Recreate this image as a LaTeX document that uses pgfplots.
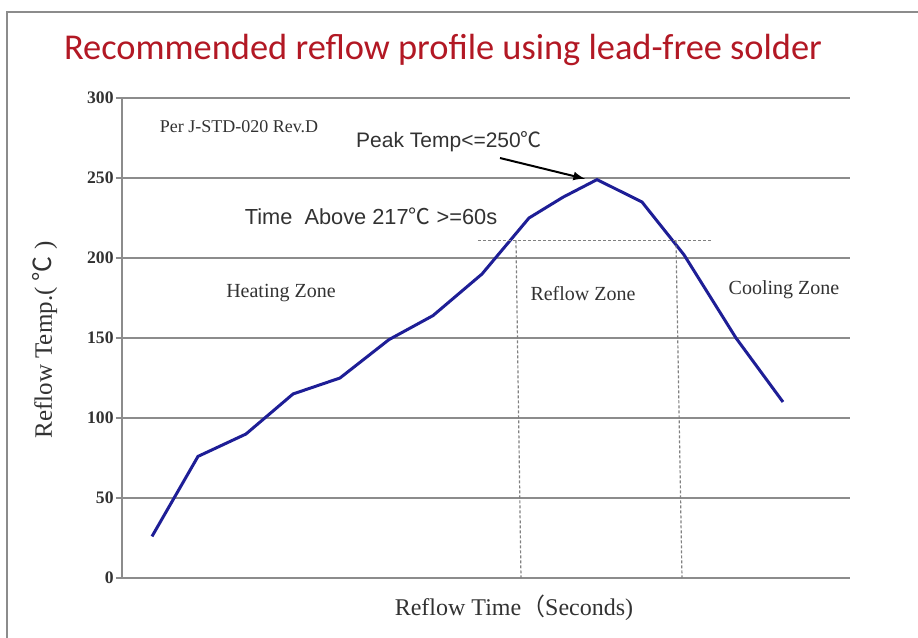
\documentclass[border=0pt]{standalone}
\usepackage{pgfplots}
\pgfplotsset{compat=1.18}
\usepackage{fontspec}
\setmainfont{Liberation Serif}
\newfontfamily\sans{Liberation Sans}
\newfontfamily\calib{Carlito}
\newfontfamily\cjk{Noto Sans CJK SC}
\definecolor{titlered}{RGB}{178,24,36}
\definecolor{curveblue}{RGB}{30,30,150}
\definecolor{gridgray}{RGB}{140,140,140}
\definecolor{txtgray}{RGB}{50,50,50}
\begin{document}
\begin{tikzpicture}
\useasboundingbox (0,0) rectangle (459pt,319pt);
% frame
\draw[gridgray, line width=0.8pt] (3.5pt,0) -- (3.5pt,313pt) -- (459pt,313pt);
% title
\node[font=\calib\fontsize{18.2}{20}\selectfont, text=titlered] at (221.5pt,294pt) {Recommended reflow profile using lead-free solder};
\begin{axis}[
  at={(61pt,30pt)}, anchor=south west,
  scale only axis, width=364pt, height=240pt,
  xmin=0, xmax=728, ymin=0, ymax=300,
  axis lines=left,
  axis line style={-, gridgray, line width=1pt},
  xtick=\empty,
  ytick={0,50,...,300},
  ymajorgrids,
  major grid style={gridgray, line width=1pt},
  ytick align=outside,
  major tick length=3pt,
  ytick style={gridgray, line width=1pt},
  yticklabel style={font=\fontsize{8.8}{10}\selectfont\bfseries, text=txtgray, inner xsep=1pt},
  /pgf/number format/assume math mode=true,
  clip=false,
]
\addplot[curveblue, line width=1.5pt] coordinates {
(30,26) (76,76) (124,90) (171,115) (218,125) (267,149) (311,164) (360,190)
(407,225) (441,238) (475,249) (520,235) (562,202) (614,150) (661,110)};
% 217 C reference lines
\addplot[gray, line width=0.6pt, dash pattern=on 1.5pt off 1pt] coordinates {(356,211) (590,211)};
\addplot[gray, line width=0.6pt, dash pattern=on 1.5pt off 1pt] coordinates {(394,211) (399,0)};
\addplot[gray, line width=0.6pt, dash pattern=on 1.5pt off 1pt] coordinates {(554,211) (560,0)};
\draw[black, line width=1pt, -{latex}] (axis cs:378,262.5) -- (axis cs:463,249.5);
\node[font=\fontsize{9}{10}\selectfont, text=txtgray] at (axis cs:117,282) {Per J-STD-020 Rev.D};
\node[font=\sans\fontsize{10.5}{11}\selectfont, text=txtgray] at (axis cs:327,272.5) {Peak Temp<=250{\cjk ℃}};
\node[font=\sans\fontsize{10.9}{11}\selectfont, text=txtgray] at (axis cs:249,226) {Time~ Above 217{\cjk ℃} >=60s};
\node[font=\fontsize{10}{11}\selectfont, text=txtgray] at (axis cs:159,178) {Heating Zone};
\node[font=\fontsize{10}{11}\selectfont, text=txtgray] at (axis cs:461,178) {Reflow Zone};
\node[font=\fontsize{10}{11}\selectfont, text=txtgray] at (axis cs:662,180) {Cooling Zone};
\end{axis}
\node[rotate=90, font=\fontsize{12.5}{13}\selectfont, text=txtgray] at (22.5pt,149pt) {Reflow Temp.( {\cjk ℃} )};
\node[font=\fontsize{12}{13}\selectfont, text=txtgray] at (257pt,15pt) {Reflow Time{\cjk （}Seconds)};
\end{tikzpicture}
\end{document}
